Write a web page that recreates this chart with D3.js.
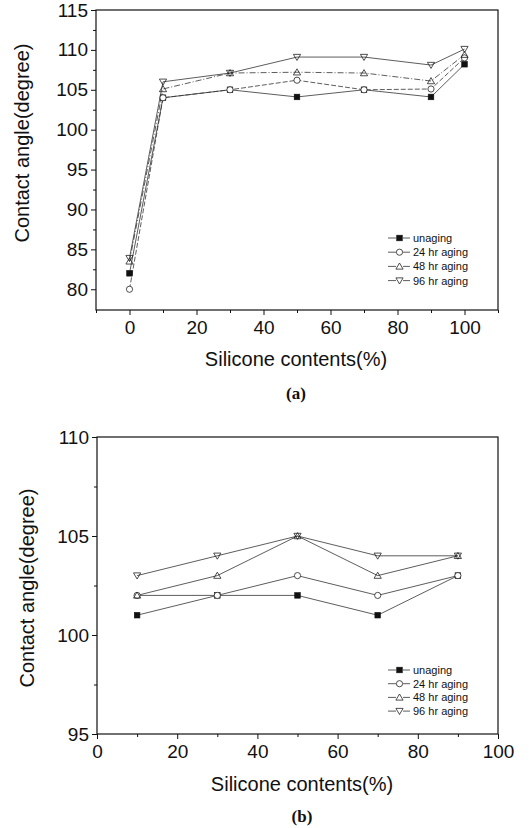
<!DOCTYPE html>
<html>
<head>
<meta charset="utf-8">
<script src="https://cdn.jsdelivr.net/npm/d3@7"></script>
<style>
  html, body { margin: 0; padding: 0; background: #fff; }
  svg { display: block; }
  text { font-family: "Liberation Sans", Arial, sans-serif; fill: #111; }
</style>
</head>
<body>
<svg id="chart" width="529" height="828"></svg>
<script>
// ---- data ----
const seriesNames = ['unaging', '24 hr aging', '48 hr aging', '96 hr aging'];
const seriesSymbols = ['square', 'circle', 'up', 'down'];

// panel (a)
const xA = [0, 10, 30, 50, 70, 90, 100];
const unagingA = [82, 104, 105, 104.1, 105, 104.1, 108.2];
const aging24A = [80, 104, 105, 106.2, 105, 105.1, 109];
const aging48A = [83.5, 105.1, 107.1, 107.2, 107.1, 106.1, 109.4];
const aging96A = [83.9, 106, 107.1, 109.1, 109.1, 108.1, 110.1];
const yTicksA = [80, 85, 90, 95, 100, 105, 110, 115];
const xTicksA = [0, 20, 40, 60, 80, 100];

// panel (b)
const xB = [10, 30, 50, 70, 90];
const unagingB = [101, 102, 102, 101, 103];
const aging24B = [102, 102, 103, 102, 103];
const aging48B = [102, 103, 105, 103, 104];
const aging96B = [103, 104, 105, 104, 104];
const yTicksB = [95, 100, 105, 110];
const xTicksB = [0, 20, 40, 60, 80, 100];

const svg = d3.select('#chart');

function drawSymbol(g, kind, x, y) {
  const s = 2.8;
  if (kind === 'square') {
    g.append('rect').attr('x', x - s).attr('y', y - s).attr('width', 2 * s).attr('height', 2 * s)
      .attr('fill', '#111').attr('stroke', '#111').attr('stroke-width', 0.6);
  } else if (kind === 'circle') {
    g.append('circle').attr('cx', x).attr('cy', y).attr('r', 3.1)
      .attr('fill', '#fff').attr('stroke', '#222').attr('stroke-width', 0.8);
  } else {
    const h = 3.4, w = 3.6;
    const pts = kind === 'up'
      ? [[x, y - h], [x + w, y + h * 0.8], [x - w, y + h * 0.8]]
      : [[x, y + h], [x + w, y - h * 0.8], [x - w, y - h * 0.8]];
    g.append('path').attr('d', d3.line()(pts) + 'Z')
      .attr('fill', 'none').attr('stroke', '#222').attr('stroke-width', 0.8);
  }
}

function panel(opt) {
  const { left, top, right, bottom } = opt;
  const g = svg.append('g');
  const x = d3.scaleLinear().domain(opt.xDomain).range([left, right]);
  const y = d3.scaleLinear().domain(opt.yDomain).range([bottom, top]);

  // lines
  const line = d3.line().x(d => x(d[0])).y(d => y(d[1]));
  opt.series.forEach((vals, i) => {
    const pts = opt.xs.map((v, j) => [v, vals[j]]);
    g.append('path').attr('d', line(pts)).attr('fill', 'none')
      .attr('stroke', '#333').attr('stroke-width', 0.8)
      .attr('stroke-dasharray', opt.dashes[i]);
  });
  // markers
  opt.series.forEach((vals, i) => {
    opt.xs.forEach((v, j) => drawSymbol(g, seriesSymbols[i], x(v), y(vals[j])));
  });

  // frame
  g.append('rect').attr('x', left).attr('y', top).attr('width', right - left).attr('height', bottom - top)
    .attr('fill', 'none').attr('stroke', '#111').attr('stroke-width', 1.2);

  // axes
  const yMinor = opt.yTicks.slice(0, -1).map(v => v + 2.5).filter(v => v < opt.yDomain[1]);
  g.append('g').attr('transform', `translate(${left},0)`)
    .call(d3.axisLeft(y).tickValues(opt.yTicks).tickSize(5).tickPadding(3).tickFormat(d3.format('d')))
    .selectAll('text').attr('font-size', 19);
  g.append('g').attr('transform', `translate(${left},0)`)
    .call(d3.axisLeft(y).tickValues(yMinor).tickSize(3).tickFormat(''));
  const xMinor = d3.range(opt.xDomain[0], opt.xDomain[1] + 1, 10).filter(v => !opt.xTicks.includes(v));
  g.append('g').attr('transform', `translate(0,${bottom})`)
    .call(d3.axisBottom(x).tickValues(opt.xTicks).tickSize(5).tickPadding(6).tickFormat(d3.format('d')))
    .selectAll('text').attr('font-size', 19);
  g.append('g').attr('transform', `translate(0,${bottom})`)
    .call(d3.axisBottom(x).tickValues(xMinor).tickSize(3).tickFormat(''));
  g.selectAll('.domain').remove();
  g.selectAll('.tick line').attr('stroke', '#111').attr('stroke-width', 1);
  g.selectAll('.tick text').attr('fill', '#111')
    .style('font-family', '"Liberation Sans", Arial, sans-serif');

  // titles
  g.append('text').attr('transform', `translate(${opt.yLabelX},${opt.yLabelY}) rotate(-90)`)
    .attr('text-anchor', 'middle').attr('font-size', 20).text('Contact angle(degree)');
  g.append('text').attr('x', opt.xLabelX).attr('y', opt.xLabelY)
    .attr('text-anchor', 'middle').attr('font-size', 20).text('Silicone contents(%)');
  g.append('text').attr('x', opt.xLabelX).attr('y', opt.capY)
    .attr('text-anchor', 'middle').attr('font-size', 17).attr('font-weight', 'bold')
    .style('font-family', '"Liberation Serif", "Times New Roman", serif').text(opt.caption);

  // legend
  const lg = g.append('g');
  seriesNames.forEach((name, i) => {
    const ly = opt.legendY + i * opt.legendStep;
    lg.append('line').attr('x1', 388).attr('x2', 396).attr('y1', ly).attr('y2', ly)
      .attr('stroke', '#333').attr('stroke-width', 0.8);
    lg.append('line').attr('x1', 403).attr('x2', 410).attr('y1', ly).attr('y2', ly)
      .attr('stroke', '#333').attr('stroke-width', 0.8);
    drawSymbol(lg, seriesSymbols[i], 399.5, ly);
    lg.append('text').attr('x', 413).attr('y', ly + 4).attr('font-size', 11).text(name);
  });
}

panel({
  left: 96, top: 10, right: 498, bottom: 310,
  xDomain: [-10, 110], yDomain: [77.4, 115],
  xs: xA, series: [unagingA, aging24A, aging48A, aging96A],
  dashes: [null, '5,2', '6,2,1,2', null],
  yTicks: yTicksA, xTicks: xTicksA,
  yLabelX: 29, yLabelY: 143, xLabelX: 296, xLabelY: 366, capY: 399, caption: '(a)',
  legendY: 238, legendStep: 14.2
});

panel({
  left: 97, top: 437, right: 498, bottom: 734,
  xDomain: [0, 100], yDomain: [95, 110],
  xs: xB, series: [unagingB, aging24B, aging48B, aging96B],
  dashes: [null, null, null, null],
  yTicks: yTicksB, xTicks: xTicksB,
  yLabelX: 34, yLabelY: 588, xLabelX: 302, xLabelY: 791, capY: 822, caption: '(b)',
  legendY: 670, legendStep: 13.7
});
</script>
</body>
</html>
